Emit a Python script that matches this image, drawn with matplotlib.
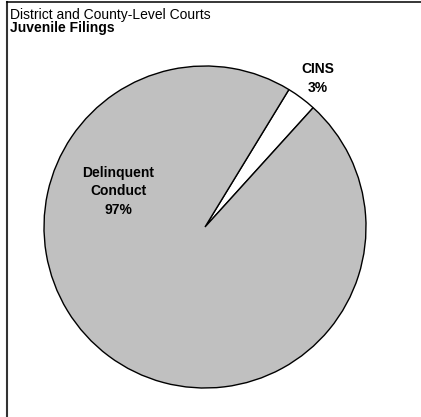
import matplotlib.pyplot as plt

plt.rcParams['font.family'] = ['Liberation Sans', 'DejaVu Sans']

categories = ['Delinquent\nConduct', 'CINS']
shares = [97, 3]
colors = ['#c0c0c0', '#ffffff']

W, H = 421, 417
fig = plt.figure(figsize=(W / 100, H / 100), dpi=100)


def px(x, y):
    # pixel position (from top-left) -> figure fraction
    return x / W, 1 - y / H


# frame: only the top and left edges fall inside the canvas
fig.add_artist(plt.Line2D([7 / W, 7 / W], [0, 1 - 2.3 / H], transform=fig.transFigure,
                          color='#333333', lw=1.5))
fig.add_artist(plt.Line2D([7 / W, 1], [1 - 2.3 / H, 1 - 2.3 / H], transform=fig.transFigure,
                          color='black', lw=1.1))

fig.text(*px(10, 19), 'District and County-Level Courts', fontsize=10,
         va='baseline', ha='left')
fig.text(*px(10, 32), 'Juvenile Filings', fontsize=10, fontweight='bold',
         va='baseline', ha='left')

cx, cy, R = 205, 227, 161
pad = 1.02
ax = fig.add_axes([(cx - R * pad) / W, (H - cy - R * pad) / H, 2 * R * pad / W, 2 * R * pad / H])
# CINS first, centred on ~53 degrees, then the rest of the circle
ax.pie(shares[::-1], colors=colors[::-1], startangle=53.2 - shares[1] * 1.8,
       counterclock=True, wedgeprops=dict(edgecolor='black', linewidth=1.0), radius=1.0)
ax.set_xlim(-pad, pad)
ax.set_ylim(-pad, pad)
ax.set_aspect('auto')
ax.axis('off')

# label block centres, in pixels
label_pos = {'Delinquent\nConduct': (118, 191.5), 'CINS': (318, 78.5)}
for name, val in zip(categories, shares):
    lx, ly = label_pos[name]
    ax.text((lx - cx) / R, (cy - ly) / R, f'{name}\n{val}%', ha='center', va='center',
            fontsize=10, fontweight='bold', linespacing=1.38)

fig.savefig('out.png', dpi=100)
